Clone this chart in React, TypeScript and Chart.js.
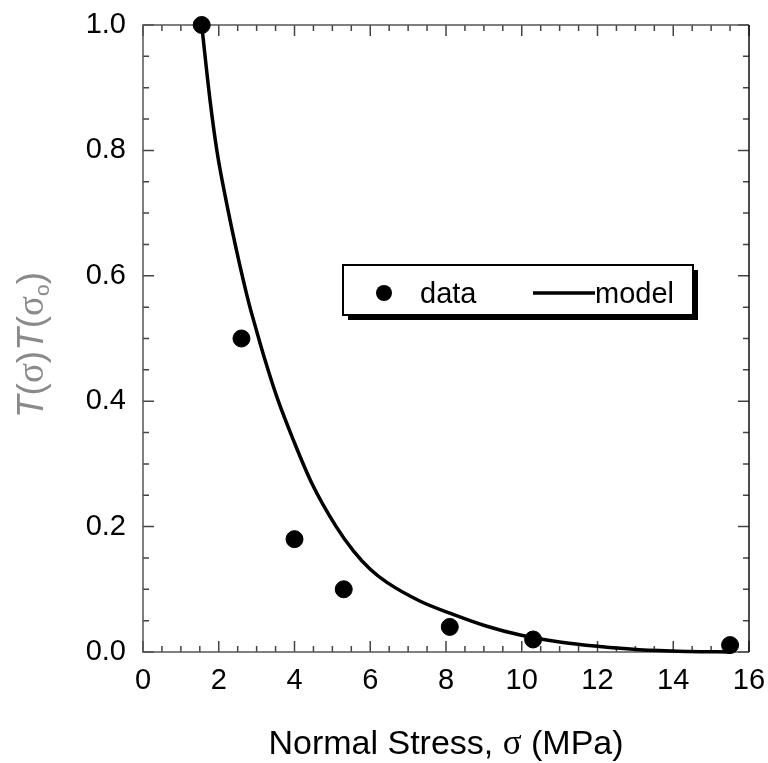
import React, { useEffect, useRef } from "react";
import { Chart, registerables } from "chart.js";

Chart.register(...registerables);

// ---- data ----
const dataStress = [1.55, 2.6, 4.0, 5.3, 8.1, 10.3, 15.5];
const dataRatio = [1.0, 0.5, 0.18, 0.1, 0.04, 0.02, 0.011];

const modelStress = [1.55, 1.77, 1.95, 2.21, 2.47, 2.78, 3.0, 3.22, 3.55, 3.97, 4.45, 5.1, 5.56, 6.0, 6.44, 7.32, 8.1, 9.08, 9.96, 11.0, 12.0, 13.1, 14.4, 15.5];
const modelRatio = [1.0, 0.88, 0.8, 0.715, 0.64, 0.56, 0.512, 0.466, 0.404, 0.338, 0.27, 0.2, 0.161, 0.132, 0.111, 0.081, 0.062, 0.041, 0.027, 0.016, 0.009, 0.0035, 0.0008, 0.0];

const xMajorTicks = [0, 2, 4, 6, 8, 10, 12, 14, 16];
const yMajorTicks = [0, 0.2, 0.4, 0.6, 0.8, 1.0];
const xMinorStep = 0.5;
const yMinorStep = 0.05;

const legendLabels = ["data", "model"];
const xTitleParts = ["Normal Stress, ", "σ", " (MPa)"];

const SANS = "'Liberation Sans', Arial, sans-serif";
const SERIF = "'Liberation Serif', 'Times New Roman', serif";

const framePlugin = {
  id: "frame",
  beforeDatasetsDraw(chart: any) {
    const { ctx, chartArea: a, scales } = chart;
    const xs = scales.x;
    const ys = scales.y;
    ctx.save();
    ctx.lineWidth = 1.5;
    const drawX = (v: number, len: number) => {
      const px = xs.getPixelForValue(v);
      ctx.beginPath();
      ctx.moveTo(px, a.bottom);
      ctx.lineTo(px, a.bottom - len);
      ctx.moveTo(px, a.top);
      ctx.lineTo(px, a.top + len);
      ctx.stroke();
    };
    const drawY = (v: number, len: number) => {
      const py = ys.getPixelForValue(v);
      ctx.beginPath();
      ctx.moveTo(a.left, py);
      ctx.lineTo(a.left + len, py);
      ctx.moveTo(a.right, py);
      ctx.lineTo(a.right - len, py);
      ctx.stroke();
    };
    ctx.strokeStyle = "#444";
    const xMax = xMajorTicks[xMajorTicks.length - 1];
    for (let i = 0; i * xMinorStep <= xMax + 1e-9; i++) {
      const v = i * xMinorStep;
      const major = xMajorTicks.some((t) => Math.abs(t - v) < 1e-9);
      drawX(v, major ? 11 : 6);
    }
    const yMax = yMajorTicks[yMajorTicks.length - 1];
    for (let i = 0; i * yMinorStep <= yMax + 1e-9; i++) {
      const v = i * yMinorStep;
      const major = yMajorTicks.some((t) => Math.abs(t - v) < 1e-9);
      drawY(v, major ? 11 : 6);
    }
    ctx.strokeStyle = "#555";
    ctx.beginPath();
    ctx.moveTo(a.right, a.top);
    ctx.lineTo(a.left, a.top);
    ctx.lineTo(a.left, a.bottom);
    ctx.lineTo(a.right, a.bottom);
    ctx.stroke();
    ctx.strokeStyle = "#111";
    ctx.beginPath();
    ctx.moveTo(a.right, a.top);
    ctx.lineTo(a.right, a.bottom);
    ctx.stroke();
    ctx.restore();
  },
  afterDraw(chart: any) {
    const { ctx } = chart;
    ctx.save();
    // ---- y title: T(σ)T(σo) ----
    const ySize = 37;
    const parts: { t: string; f: string; dy?: number }[] = [
      { t: "T", f: `italic ${ySize}px ${SANS}` },
      { t: "(", f: `${ySize}px ${SANS}` },
      { t: "σ", f: `${ySize}px ${SERIF}` },
      { t: ")", f: `${ySize}px ${SANS}` },
      { t: "T", f: `italic ${ySize}px ${SANS}` },
      { t: "(", f: `${ySize}px ${SANS}` },
      { t: "σ", f: `${ySize}px ${SERIF}` },
      { t: "o", f: `${Math.round(ySize * 0.58)}px ${SANS}`, dy: 6 },
      { t: ")", f: `${ySize}px ${SANS}` },
    ];
    const widths = parts.map((p) => {
      ctx.font = p.f;
      return ctx.measureText(p.t).width;
    });
    ctx.translate(43, 418);
    ctx.rotate(-Math.PI / 2);
    ctx.fillStyle = "#8a8a8a";
    ctx.textBaseline = "alphabetic";
    ctx.textAlign = "left";
    let x = 0;
    parts.forEach((p, i) => {
      ctx.font = p.f;
      ctx.fillText(p.t, x, p.dy || 0);
      x += widths[i];
    });
    ctx.setTransform(1, 0, 0, 1, 0, 0);

    // ---- x title ----
    const xSize = 34;
    const xFonts = [`${xSize}px ${SANS}`, `${xSize + 1}px ${SERIF}`, `${xSize}px ${SANS}`];
    let xt = 0;
    const xw = xTitleParts.map((t, i) => {
      ctx.font = xFonts[i];
      const w = ctx.measureText(t).width;
      xt += w;
      return w;
    });
    ctx.fillStyle = "#000";
    let cx = 446 - xt / 2;
    xTitleParts.forEach((t, i) => {
      ctx.font = xFonts[i];
      ctx.fillText(t, cx, 754);
      cx += xw[i];
    });

    // ---- legend ----
    const lx = 343, ly = 265, lw = 350, lh = 50;
    ctx.fillStyle = "#000";
    ctx.fillRect(lx + 5, ly + 5, lw, lh);
    ctx.fillStyle = "#fff";
    ctx.fillRect(lx, ly, lw, lh);
    ctx.lineWidth = 2;
    ctx.strokeStyle = "#000";
    ctx.strokeRect(lx, ly, lw, lh);
    const ds0 = chart.data.datasets[0];
    const ds1 = chart.data.datasets[1];
    ctx.fillStyle = ds0.backgroundColor;
    ctx.beginPath();
    ctx.arc(384, 293, 8, 0, Math.PI * 2);
    ctx.fill();
    ctx.font = `29px ${SANS}`;
    ctx.fillStyle = "#000";
    ctx.fillText(legendLabels[0], 420, 303);
    ctx.strokeStyle = ds1.borderColor;
    ctx.lineWidth = ds1.borderWidth;
    ctx.beginPath();
    ctx.moveTo(533, 293);
    ctx.lineTo(595, 293);
    ctx.stroke();
    ctx.fillText(legendLabels[1], 595, 303);
    ctx.restore();
  },
};

export default function App() {
  const ref = useRef<HTMLCanvasElement | null>(null);
  useEffect(() => {
    document.body.style.margin = "0";
    const canvas = ref.current!;
    const chart = new Chart(canvas, {
      type: "scatter",
      data: {
        datasets: [
          {
            label: legendLabels[0],
            data: dataStress.map((x, i) => ({ x, y: dataRatio[i] })),
            backgroundColor: "#000",
            borderColor: "#000",
            pointRadius: 8.5,
            pointHoverRadius: 8.5,
            showLine: false,
            clip: false,
            order: 0,
            xAxisID: "x",
            yAxisID: "y",
          },
          {
            label: legendLabels[1],
            type: "line",
            data: modelStress.map((x, i) => ({ x, y: modelRatio[i] })),
            borderColor: "#000",
            backgroundColor: "#000",
            borderWidth: 3.5,
            pointRadius: 0,
            cubicInterpolationMode: "monotone",
            fill: false,
            clip: false,
            order: 1,
            xAxisID: "x",
            yAxisID: "y",
          } as any,
        ],
      },
      options: {
        responsive: false,
        animation: false,
        devicePixelRatio: 1,
        layout: { padding: 0 },
        plugins: {
          legend: { display: false },
          tooltip: { enabled: false },
          title: { display: false },
        },
        scales: {
          x: {
            type: "linear",
            position: "bottom",
            min: 0,
            max: 16,
            afterBuildTicks: (s: any) => {
              s.ticks = xMajorTicks.map((v) => ({ value: v }));
            },
            ticks: {
              color: "#000",
              font: { family: SANS, size: 29 },
              padding: 12,
              maxRotation: 0,
              callback: (v: any) => String(v),
            },
            grid: { display: false, drawTicks: false },
            border: { display: false },
            afterFit: (s: any) => {
              s.height = 111;
              s.paddingLeft = 0;
              s.paddingRight = 0;
            },
          },
          xTop: {
            type: "linear",
            position: "top",
            min: 0,
            max: 16,
            ticks: { display: false },
            grid: { display: false, drawTicks: false },
            border: { display: false },
            afterFit: (s: any) => {
              s.height = 25;
              s.paddingLeft = 0;
              s.paddingRight = 0;
            },
          },
          y: {
            type: "linear",
            position: "left",
            min: 0,
            max: 1,
            afterBuildTicks: (s: any) => {
              s.ticks = yMajorTicks.map((v) => ({ value: v }));
            },
            ticks: {
              color: "#000",
              font: { family: SANS, size: 29 },
              padding: 17,
              callback: (v: any) => Number(v).toFixed(1),
            },
            grid: { display: false, drawTicks: false },
            border: { display: false },
            afterFit: (s: any) => {
              s.width = 143;
              s.paddingTop = 0;
              s.paddingBottom = 0;
            },
          },
          yRight: {
            type: "linear",
            position: "right",
            min: 0,
            max: 1,
            ticks: { display: false },
            grid: { display: false, drawTicks: false },
            border: { display: false },
            afterFit: (s: any) => {
              s.width = 19;
              s.paddingTop = 0;
              s.paddingBottom = 0;
            },
          },
        },
      },
      plugins: [framePlugin],
    });
    return () => chart.destroy();
  }, []);
  return (
    <div style={{ position: "absolute", left: 0, top: 0, width: 768, height: 763, background: "#fff" }}>
      <canvas ref={ref} width={768} height={763} style={{ display: "block" }} />
    </div>
  );
}
